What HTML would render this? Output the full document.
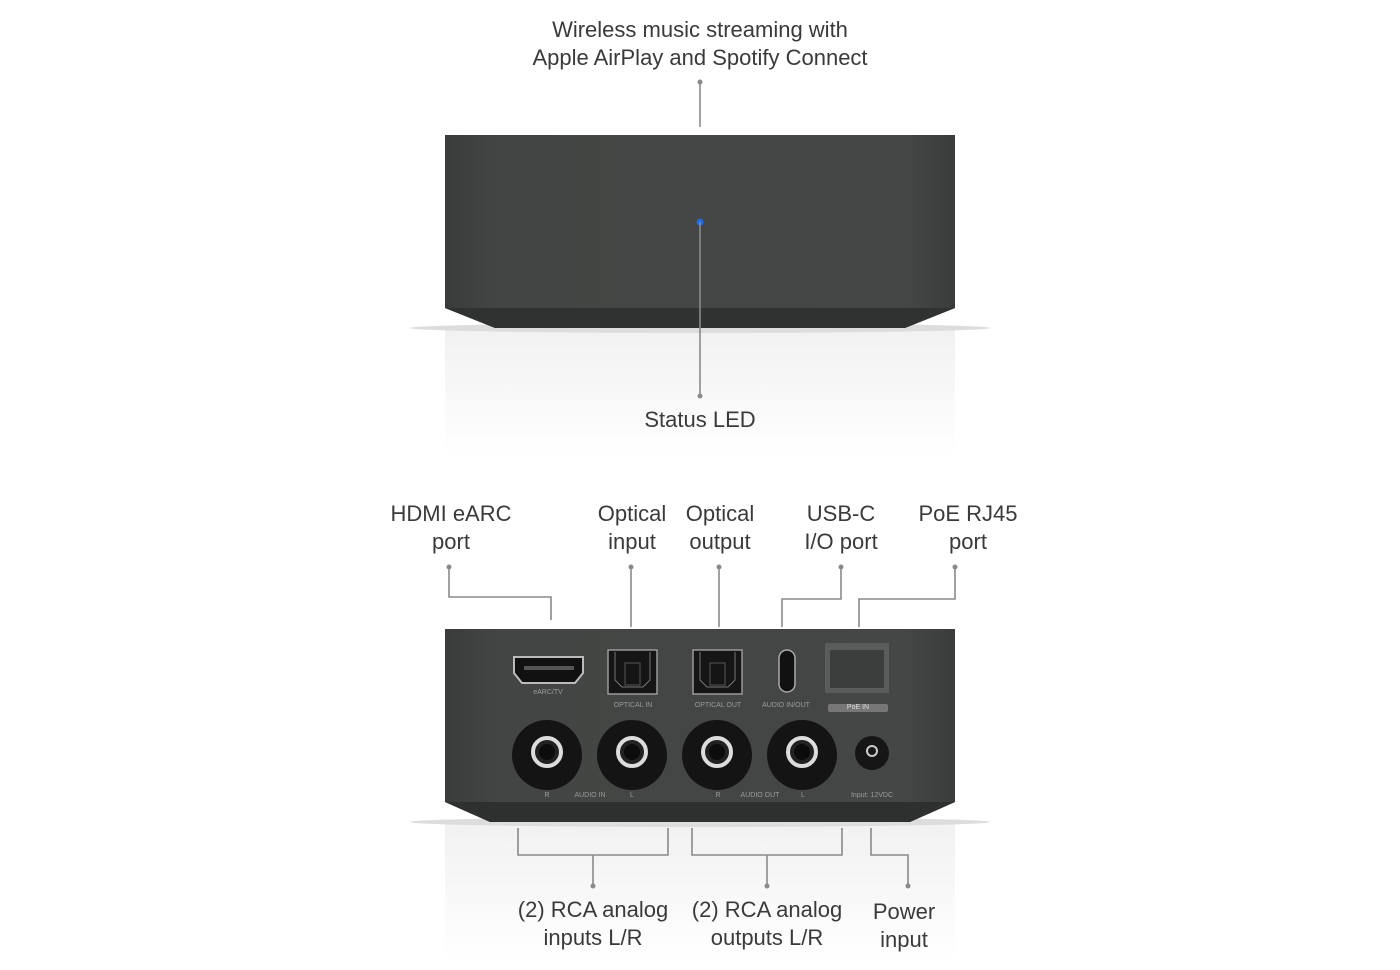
<!DOCTYPE html>
<html><head><style>
body{margin:0;width:1400px;height:970px;background:#fff;overflow:hidden;position:relative;font-family:"Liberation Sans",sans-serif;}
.t{position:absolute;font-size:22px;color:#3a3a3a;text-align:center;line-height:28px;transform:translateX(-50%);white-space:nowrap}
.s{position:absolute;font-size:7px;color:#9a9a9a;transform:translateX(-50%);white-space:nowrap}
</style></head><body>
<svg width="1400" height="970" style="position:absolute;left:0;top:0">
<defs>
<linearGradient id="ref" x1="0" y1="0" x2="0" y2="1"><stop offset="0" stop-color="#e8e8e8"/><stop offset="1" stop-color="#fff"/></linearGradient>
<linearGradient id="body" x1="0" y1="0" x2="1" y2="0"><stop offset="0" stop-color="#3a3c3b"/><stop offset="0.1" stop-color="#434544"/><stop offset="0.9" stop-color="#454746"/><stop offset="1" stop-color="#3a3c3b"/></linearGradient>
</defs>
<!-- top device -->
<rect x="445" y="328" width="510" height="130" fill="url(#ref)" opacity="0.6"/>
<ellipse cx="700" cy="328" rx="290" ry="5" fill="#ddd"/>
<path d="M445 135 H955 V308 L905 328 H495 L445 308 Z" fill="url(#body)"/>
<path d="M445 308 H955 L905 328 H495 Z" fill="#303231"/>
<circle cx="700" cy="222" r="3.5" fill="#1a6cf0"/>
<!-- back device -->
<rect x="445" y="822" width="510" height="140" fill="url(#ref)" opacity="0.6"/>
<ellipse cx="700" cy="822" rx="290" ry="5" fill="#ddd"/>
<path d="M445 629 H955 V802 L910 822 H490 L445 802 Z" fill="url(#body)"/>
<path d="M445 802 H955 L910 822 H490 Z" fill="#2e302f"/>
<!-- HDMI -->
<path d="M514 657 H583 V673 L575 683 H522 L514 673 Z" fill="#111" stroke="#bbb" stroke-width="2"/>
<rect x="524" y="666" width="50" height="4" fill="#555"/>
<!-- optical -->
<rect x="608" y="650" width="49" height="44" fill="#151515" stroke="#999" stroke-width="1.5"/>
<path d="M615 652 V680 L622 687 H643 L650 680 V652" fill="none" stroke="#777"/>
<rect x="625" y="663" width="15" height="22" fill="none" stroke="#555"/>
<rect x="693" y="650" width="49" height="44" fill="#151515" stroke="#999" stroke-width="1.5"/>
<path d="M700 652 V680 L707 687 H728 L735 680 V652" fill="none" stroke="#777"/>
<rect x="710" y="663" width="15" height="22" fill="none" stroke="#555"/>
<!-- USB-C -->
<rect x="779" y="650" width="16" height="42" rx="8" fill="#111" stroke="#aaa" stroke-width="1.5"/>
<!-- RJ45 -->
<rect x="825" y="643" width="64" height="50" fill="#5a5c5b"/>
<rect x="830" y="650" width="54" height="38" fill="#3c3e3d"/>
<rect x="828" y="704" width="60" height="8" rx="2" fill="#777"/>
<!-- RCA -->
<g fill="#141414"><circle cx="547" cy="755" r="35"/><circle cx="632" cy="755" r="35"/><circle cx="717" cy="755" r="35"/><circle cx="802" cy="755" r="35"/></g>
<g fill="#222" stroke="#ddd" stroke-width="4"><circle cx="547" cy="752" r="14"/><circle cx="632" cy="752" r="14"/><circle cx="717" cy="752" r="14"/><circle cx="802" cy="752" r="14"/></g>
<g fill="#0c0c0c"><circle cx="547" cy="752" r="8"/><circle cx="632" cy="752" r="8"/><circle cx="717" cy="752" r="8"/><circle cx="802" cy="752" r="8"/></g>
<circle cx="872" cy="753" r="17" fill="#161616"/>
<circle cx="872" cy="751" r="5" fill="none" stroke="#ccc" stroke-width="2"/>
<!-- connectors -->
<g stroke="#8a8a8a" stroke-width="1.6" fill="none">
<path d="M700 82 V127"/><path d="M700 222 V396"/>
<path d="M449 567 V597 H551 V620"/>
<path d="M631 567 V627"/><path d="M719 567 V627"/>
<path d="M841 567 V599 H782 V627"/>
<path d="M955 567 V599 H859 V627"/>
<path d="M518 828 V855 H668 V828 M593 855 V886"/>
<path d="M692 828 V855 H842 V828 M767 855 V886"/>
<path d="M871 828 V855 H908 V886"/>
</g>
<g fill="#8a8a8a">
<circle cx="700" cy="82" r="2.5"/><circle cx="700" cy="396" r="2.5"/>
<circle cx="449" cy="567" r="2.5"/><circle cx="631" cy="567" r="2.5"/><circle cx="719" cy="567" r="2.5"/><circle cx="841" cy="567" r="2.5"/><circle cx="955" cy="567" r="2.5"/>
<circle cx="593" cy="886" r="2.5"/><circle cx="767" cy="886" r="2.5"/><circle cx="908" cy="886" r="2.5"/>
</g>
</svg>
<div class="s" style="left:548px;top:689px">eARC/TV</div>
<div class="s" style="left:633px;top:702px">OPTICAL IN</div>
<div class="s" style="left:718px;top:702px">OPTICAL OUT</div>
<div class="s" style="left:786px;top:702px">AUDIO IN/OUT</div>
<div class="s" style="left:858px;top:704px;color:#ddd">PoE IN</div>
<div class="s" style="left:547px;top:792px">R</div>
<div class="s" style="left:590px;top:792px">AUDIO IN</div>
<div class="s" style="left:632px;top:792px">L</div>
<div class="s" style="left:718px;top:792px">R</div>
<div class="s" style="left:760px;top:792px">AUDIO OUT</div>
<div class="s" style="left:803px;top:792px">L</div>
<div class="s" style="left:872px;top:792px">Input: 12VDC</div>
<div class="t" style="left:700px;top:16px">Wireless music streaming with<br>Apple AirPlay and Spotify Connect</div>
<div class="t" style="left:700px;top:406px">Status LED</div>
<div class="t" style="left:451px;top:500px">HDMI eARC<br>port</div>
<div class="t" style="left:632px;top:500px">Optical<br>input</div>
<div class="t" style="left:720px;top:500px">Optical<br>output</div>
<div class="t" style="left:841px;top:500px">USB-C<br>I/O port</div>
<div class="t" style="left:968px;top:500px">PoE RJ45<br>port</div>
<div class="t" style="left:593px;top:896px">(2) RCA analog<br>inputs L/R</div>
<div class="t" style="left:767px;top:896px">(2) RCA analog<br>outputs L/R</div>
<div class="t" style="left:904px;top:898px">Power<br>input</div>
</body></html>
